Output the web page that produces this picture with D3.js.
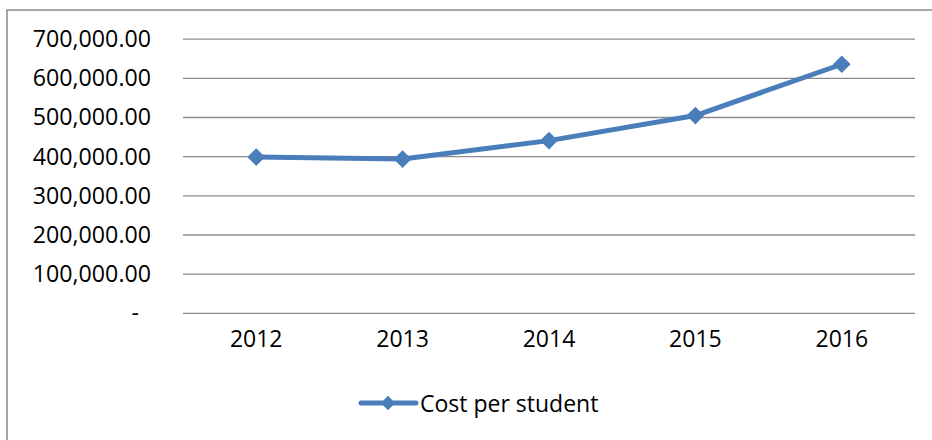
<!DOCTYPE html>
<html>
<head>
<meta charset="utf-8">
<script src="https://cdn.jsdelivr.net/npm/d3@7"></script>
<style>
  body { margin: 0; background: #fff; }
  svg { display: block; font-family: "Open Sans", sans-serif; }
</style>
</head>
<body>
<svg id="chart" width="932" height="440"></svg>
<script>
// data
const years = ['2012', '2013', '2014', '2015', '2016'];
const costPerStudent = [399000, 394000, 441000, 505000, 636000];
const yTicks = [0, 100000, 200000, 300000, 400000, 500000, 600000, 700000];
const seriesName = 'Cost per student';

const svg = d3.select('#chart');
const blue = '#4a7ebb';

// outer chart border (runs off the right and bottom of the picture)
svg.append('rect')
    .attr('x', 7).attr('y', 10)
    .attr('width', 940).attr('height', 450)
    .attr('fill', 'none')
    .attr('stroke', '#898989')
    .attr('stroke-width', 1.5);

let x = d3.scaleBand().domain(years).range([183, 915]);
let y = d3.scaleLinear().domain([0, 700000]).range([313.3, 39.2]);

let fmt = d3.format(',.2f');

// gridlines
svg.append('g')
    .selectAll('line')
    .data(yTicks)
    .join('line')
    .attr('x1', 183).attr('x2', 915)
    .attr('y1', d => y(d)).attr('y2', d => y(d))
    .attr('stroke', '#8c8c8c')
    .attr('stroke-width', 1.3);

// y labels
let yAxis = d3.axisLeft(y)
    .tickValues(yTicks)
    .tickSize(0)
    .tickPadding(0)
    .tickFormat(d => d === 0 ? '-' : fmt(d));
let gy = svg.append('g').attr('transform', 'translate(151,0)').call(yAxis);
gy.select('.domain').remove();
gy.selectAll('text')
    .attr('font-size', 23.2)
    .attr('font-family', '"Open Sans", sans-serif')
    .attr('fill', '#000')
    .attr('dx', d => d === 0 ? -12 : 0);

// x labels
let xAxis = d3.axisBottom(x).tickSize(0).tickPadding(0);
let gx = svg.append('g').attr('transform', 'translate(0,331)').call(xAxis);
gx.select('.domain').remove();
gx.selectAll('text')
    .attr('font-size', 23)
    .attr('font-family', '"Open Sans", sans-serif')
    .attr('fill', '#000');

// series line
let cx = d => x(d) + x.bandwidth() / 2;
let pts = years.map((yr, i) => [cx(yr), y(costPerStudent[i])]);
svg.append('path')
    .attr('d', d3.line()(pts))
    .attr('fill', 'none')
    .attr('stroke', blue)
    .attr('stroke-width', 5)
    .attr('stroke-linejoin', 'round')
    .attr('stroke-linecap', 'round');

let diamond = d3.symbol().type(d3.symbolDiamond2).size(200);
svg.append('g')
    .selectAll('path')
    .data(pts)
    .join('path')
    .attr('d', diamond)
    .attr('transform', d => 'translate(' + d[0] + ',' + d[1] + ')')
    .attr('fill', blue);

// legend
let lg = svg.append('g').attr('transform', 'translate(0,403)');
lg.append('line')
    .attr('x1', 361).attr('x2', 416)
    .attr('stroke', blue).attr('stroke-width', 5)
    .attr('stroke-linecap', 'round');
lg.append('path')
    .attr('d', d3.symbol().type(d3.symbolDiamond2).size(130))
    .attr('transform', 'translate(388,0)')
    .attr('fill', blue);
lg.append('text')
    .attr('x', 420).attr('y', 8.5)
    .attr('font-size', 23)
    .attr('fill', '#000')
    .text(seriesName);
</script>
</body>
</html>
